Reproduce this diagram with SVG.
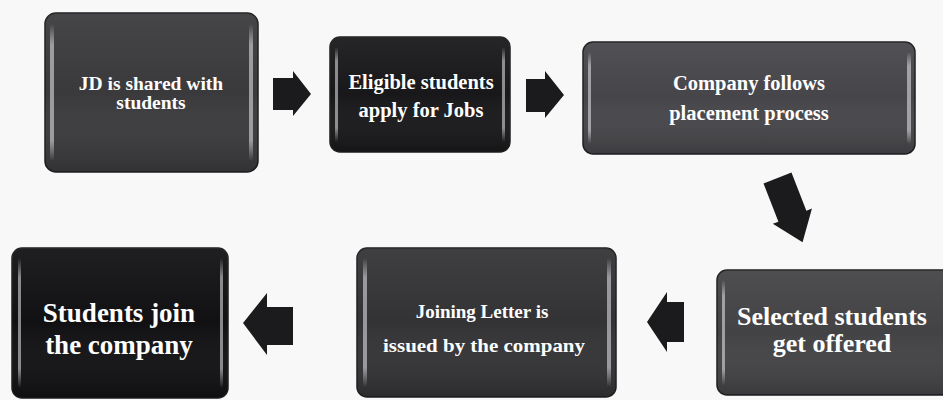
<svg xmlns="http://www.w3.org/2000/svg" width="943" height="400" viewBox="0 0 943 400">
  <defs>
    <linearGradient id="hl" x1="0" y1="0" x2="0" y2="1">
      <stop offset="0" stop-color="#ffffff" stop-opacity="0"/>
      <stop offset="0.15" stop-color="#e8e8ee" stop-opacity="0.55"/>
      <stop offset="0.85" stop-color="#e8e8ee" stop-opacity="0.55"/>
      <stop offset="1" stop-color="#ffffff" stop-opacity="0"/>
    </linearGradient>
    <linearGradient id="shade" x1="0" y1="0" x2="0" y2="1">
      <stop offset="0" stop-color="#ffffff" stop-opacity="0.06"/>
      <stop offset="0.5" stop-color="#ffffff" stop-opacity="0"/>
      <stop offset="1" stop-color="#000000" stop-opacity="0.15"/>
    </linearGradient>
  </defs>
  <style>
    .box { stroke: #1e1e20; stroke-width: 1.5; }
    .gloss { fill: url(#shade); }
    .hl { fill: url(#hl); }
    .t { font-family: "Liberation Serif", "DejaVu Serif", serif; font-weight: bold; fill: #ffffff; text-anchor: middle; }
    .arrow { fill: #1b1b1d; }
  </style>
  <rect width="943" height="400" fill="#f8f8f8"/>

  <g id="connectors">
    <path class="arrow" d="M273,78 H293 V71 L311,94 L293,116 V110 H273 Z"/>
    <path class="arrow" d="M526,79 H545 V71 L564,95 L545,118 V112 H526 Z"/>
    <path class="arrow" transform="translate(777.5,178) rotate(-21.3)" d="M-15,0 H15 V41 H21 L0,69 L-21,41 H-15 Z"/>
    <path class="arrow" d="M684,302 V342 H667 V352 L647,322 L667,292 V302 Z"/>
    <path class="arrow" d="M293,307 V345 H267 V355 L243,323 L267,293 V307 Z"/>
  </g>

  <g id="node1">
    <rect class="box" x="45" y="13" width="213" height="159" rx="11" fill="#3a3a3d"/>
    <rect class="gloss" x="45" y="13" width="213" height="159" rx="11"/>
    <rect class="hl" x="50" y="24" width="4" height="137" rx="2"/>
    <rect class="hl" x="249" y="24" width="4" height="137" rx="2"/>
    <text class="t" font-size="19.5" x="151" y="90">JD is shared with</text>
    <text class="t" font-size="19.5" x="151" y="109">students</text>
  </g>

  <g id="node2">
    <rect class="box" x="330" y="37" width="180" height="115" rx="10" fill="#18181a"/>
    <rect class="gloss" x="330" y="37" width="180" height="115" rx="10"/>
    <rect class="hl" x="335" y="47" width="3" height="95" rx="1.5"/>
    <rect class="hl" x="502" y="47" width="3" height="95" rx="1.5"/>
    <text class="t" font-size="20.5" x="421" y="89">Eligible students</text>
    <text class="t" font-size="20.5" x="421" y="117">apply for Jobs</text>
  </g>

  <g id="node3">
    <rect class="box" x="583" y="42" width="332" height="112" rx="10" fill="#46464a"/>
    <rect class="gloss" x="583" y="42" width="332" height="112" rx="10"/>
    <rect class="hl" x="588" y="52" width="3" height="92" rx="1.5"/>
    <rect class="hl" x="907" y="52" width="4" height="92" rx="2"/>
    <text class="t" font-size="20.5" x="749" y="90">Company follows</text>
    <text class="t" font-size="20.5" x="749" y="120">placement process</text>
  </g>

  <g id="node4">
    <rect class="box" x="717" y="270" width="236" height="125" rx="10" fill="#434346"/>
    <rect class="gloss" x="717" y="270" width="236" height="125" rx="10"/>
    <rect class="hl" x="722" y="280" width="3" height="105" rx="1.5"/>
    <text class="t" font-size="26" x="832" y="325">Selected students</text>
    <text class="t" font-size="26" x="832" y="352">get offered</text>
  </g>

  <g id="node5">
    <rect class="box" x="357" y="248" width="259" height="149" rx="10" fill="#333336"/>
    <rect class="gloss" x="357" y="248" width="259" height="149" rx="10"/>
    <rect class="hl" x="363" y="258" width="4" height="129" rx="2"/>
    <rect class="hl" x="607" y="258" width="4" height="129" rx="2"/>
    <text class="t" font-size="19" x="482" y="318">Joining Letter is</text>
    <text class="t" font-size="19" x="484" y="352" textLength="202" lengthAdjust="spacingAndGlyphs">issued by the company</text>
  </g>

  <g id="node6">
    <rect class="box" x="12" y="248" width="216" height="150" rx="10" fill="#111113"/>
    <rect class="gloss" x="12" y="248" width="216" height="150" rx="10"/>
    <rect class="hl" x="18" y="258" width="3" height="130" rx="1.5"/>
    <rect class="hl" x="220" y="258" width="3" height="130" rx="1.5"/>
    <text class="t" font-size="27" x="119" y="322">Students join</text>
    <text class="t" font-size="27" x="119" y="354">the company</text>
  </g>
</svg>
